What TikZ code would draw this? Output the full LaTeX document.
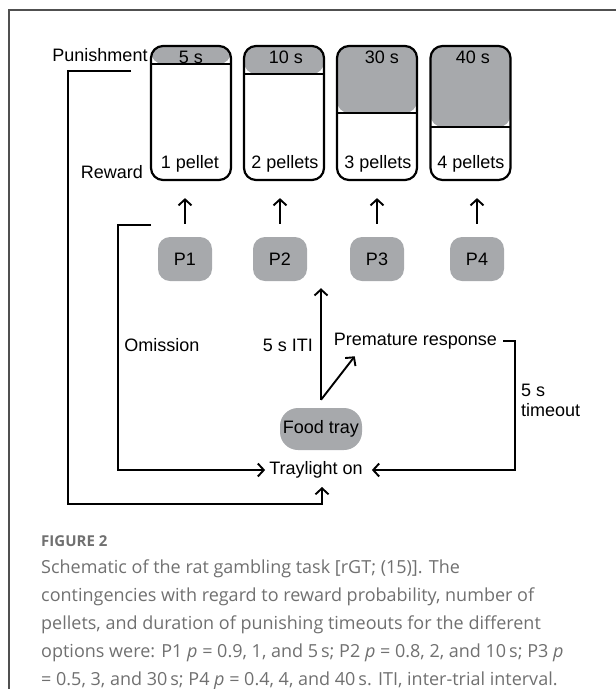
\documentclass[tikz,border=0pt]{standalone}
\usepackage{fontspec}
\setmainfont{Liberation Sans}
\newfontfamily\capfont{Open Sans}
\usetikzlibrary{arrows.meta,calc}
\definecolor{boxgray}{HTML}{A7A9AC}
\definecolor{framegray}{HTML}{505050}
\definecolor{captiongray}{HTML}{707070}
\begin{document}
\begin{tikzpicture}[x=1pt,y=-1pt,
  lbl/.style={font=\fontsize{18}{20}\selectfont, inner sep=0pt},
  cup/.style={draw, line width=2.2pt, rounded corners=12pt, minimum width=80pt,
    minimum height=134pt, inner sep=0pt, fill=white,
    path picture={
      \fill[boxgray] (path picture bounding box.north west) rectangle ([yshift=-#1]path picture bounding box.north east);
      \draw[line width=2.2pt] ([yshift=-#1]path picture bounding box.north west) -- ([yshift=-#1]path picture bounding box.north east);
    }},
  pbox/.style={lbl, fill=boxgray, rounded corners=12pt, minimum width=54pt, minimum height=44pt},
  arr/.style={line width=1.9pt, -{Straight Barb[length=6pt,width=13pt]}},
  capline/.style={font=\capfont\fontsize{18}{28}\selectfont, text=captiongray, inner sep=0pt, anchor=base west}
]
\useasboundingbox (0,0) rectangle (616,689);
% frame
\draw[framegray, line width=1.4pt] (9,689) -- (9,10) -- (616,10);

% cups
\node[cup=18pt] (c1) at (191,113) {};
\node[cup=28pt] (c2) at (284,113) {};
\node[cup=67pt] (c3) at (377,113) {};
\node[cup=81pt] (c4) at (470.5,113) {};

\node[lbl] (t1) at (191,57) {5 s};
\node[lbl] (t2) at (286,57) {10 s};
\node[lbl] (t3) at (382,57) {30 s};
\node[lbl] (t4) at (473,57) {40 s};

\node[lbl] (r1) at (190,164) {1 pellet};
\node[lbl] (r2) at (285,164) {2 pellets};
\node[lbl] (r3) at (378,164) {3 pellets};
\node[lbl] (r4) at (471,164) {4 pellets};

\node[lbl] (pun) at (100,55) {Punishment};
\node[lbl] (rew) at (112,172) {Reward};

% choice holes
\node[pbox] (p1) at (185,259) {P1};
\node[pbox] (p2) at (280,259) {P2};
\node[pbox] (p3) at (377,259) {P3};
\node[pbox] (p4) at (477,259) {P4};

\foreach \i in {1,...,4}{
  \draw[arr] ([yshift=13pt]p\i.north) -- ($(p\i.north |- c\i.south)+(0,17)$);
}

% lower part
\node[lbl, fill=boxgray, rounded corners=18pt, minimum width=82pt, minimum height=42pt] (food) at (321,429) {Food tray};
\node[lbl] (tray) at (316,470) {Traylight on};
\node[lbl] (prem) at (415.5,341) {Premature response};
\node[lbl] (om) at (162,345) {Omission};
\node[lbl] (iti) at (288,345) {5 s ITI};
\node[lbl, anchor=north west, align=left] (tout) at (521,384) {5 s\\timeout};

\coordinate (pstart) at (131,71);
\coordinate (ostart) at (151,225);
\coordinate (ptip) at (322,487);

\draw[arr] (ostart) -- (118,225) |- ([xshift=-4pt]tray.west);
\draw[arr] ([xshift=6pt]prem.east) -- ++(12,0) |- ([xshift=9pt]tray.east);
\draw[arr] (pstart) -- (68,71) -- (68,504) -| (ptip);
\draw[arr] ([yshift=8pt]food.north) -- ($(food.north |- p2.south)+(0,7)$);
\draw[arr] ([yshift=8pt]food.north) -- ($(prem.south west)+(21,7)$);

% caption
\node[font=\capfont\fontsize{15}{18}\selectfont\bfseries, text=captiongray, inner sep=0pt, anchor=base west] (fig) at (41,546) {FIGURE 2};
\node[capline] (cap1) at (41,573) {Schematic of the rat gambling task [rGT; (15)]. The};
\node[capline] (cap2) at (41,601) {contingencies with regard to reward probability, number of};
\node[capline] (cap3) at (41,629) {pellets, and duration of punishing timeouts for the different};
\node[capline] (cap4) at (41,657) {options were: P1 \textit{p} = 0.9, 1, and 5\,s; P2 \textit{p} = 0.8, 2, and 10\,s; P3 \textit{p}};
\node[capline] (cap5) at (41,685) {= 0.5, 3, and 30\,s; P4 \textit{p} = 0.4, 4, and 40\,s. ITI, inter-trial interval.};
\end{tikzpicture}
\end{document}
